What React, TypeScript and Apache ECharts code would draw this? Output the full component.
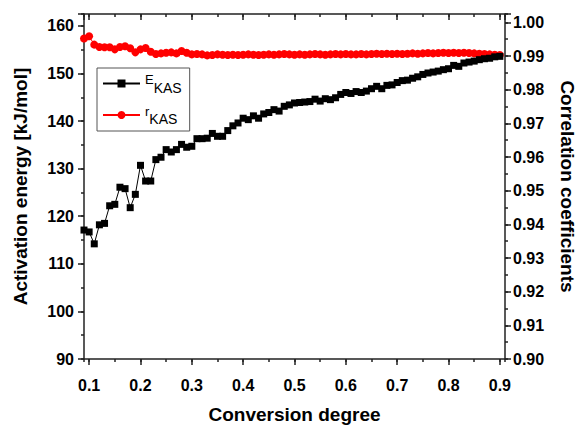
import React, { useEffect, useRef } from "react";
import * as echarts from "echarts";

// Conversion degree (x)
const conversion = [
  0.09, 0.1, 0.11, 0.12, 0.13, 0.14, 0.15, 0.16, 0.17, 0.18, 0.19, 0.2, 0.21, 0.22, 0.23, 0.24,
  0.25, 0.26, 0.27, 0.28, 0.29, 0.3, 0.31, 0.32, 0.33, 0.34, 0.35, 0.36, 0.37, 0.38, 0.39, 0.4,
  0.41, 0.42, 0.43, 0.44, 0.45, 0.46, 0.47, 0.48, 0.49, 0.5, 0.51, 0.52, 0.53, 0.54, 0.55, 0.56,
  0.57, 0.58, 0.59, 0.6, 0.61, 0.62, 0.63, 0.64, 0.65, 0.66, 0.67, 0.68, 0.69, 0.7, 0.71, 0.72,
  0.73, 0.74, 0.75, 0.76, 0.77, 0.78, 0.79, 0.8, 0.81, 0.82, 0.83, 0.84, 0.85, 0.86, 0.87, 0.88,
  0.89, 0.9,
];

// Activation energy E_KAS [kJ/mol]
const energyKAS = [
  117.1, 116.7, 114.2, 118.2, 118.5, 122.2, 122.5, 126.1, 125.8, 121.8, 124.6, 130.7, 127.4, 127.4,
  131.9, 132.4, 134.0, 133.5, 134.0, 135.1, 134.5, 134.7, 136.3, 136.3, 136.4, 137.4, 136.8, 136.8,
  138.0, 139.0, 139.6, 140.6, 140.3, 141.1, 140.6, 141.5, 141.8, 142.4, 142.1, 143.1, 143.4, 143.8,
  143.9, 144.0, 144.1, 144.6, 144.2, 144.7, 144.5, 144.9, 145.6, 146.0, 145.8, 146.2, 146.0, 146.3,
  146.8, 147.3, 146.8, 147.5, 147.6, 148.1, 148.5, 148.6, 149.0, 149.3, 149.8, 150.1, 150.3, 150.5,
  150.8, 151.0, 151.7, 151.5, 152.2, 152.4, 152.6, 152.9, 153.1, 153.2, 153.5, 153.6,
];

// Correlation coefficient r_KAS
const rKAS = [
  0.9952, 0.9959, 0.9934, 0.9927, 0.9926, 0.9926, 0.992, 0.9927, 0.9929, 0.9923, 0.9911, 0.992,
  0.9924, 0.9913, 0.9906, 0.9908, 0.991, 0.9911, 0.9908, 0.9915, 0.991, 0.9905, 0.9906, 0.9905,
  0.9902, 0.9903, 0.9905, 0.9904, 0.9903, 0.9904, 0.9903, 0.9904, 0.9905, 0.9904, 0.9903, 0.9904,
  0.9905, 0.9904, 0.9905, 0.9906, 0.9905, 0.9904, 0.9905, 0.9904, 0.9905, 0.9906, 0.9905, 0.9904,
  0.9905, 0.9906, 0.9905, 0.9906, 0.9905, 0.9905, 0.9906, 0.9905, 0.9906, 0.9907, 0.9906, 0.9907,
  0.9906, 0.9907, 0.9906, 0.9907, 0.9908, 0.9907, 0.9908, 0.9909, 0.9908, 0.9909, 0.991, 0.9909,
  0.991, 0.9909, 0.991, 0.9909, 0.9908, 0.9907, 0.9906, 0.9905, 0.9904, 0.9903,
];

const FONT = "'Liberation Sans', Arial, Helvetica, sans-serif";
const AXIS_COLOR = "#222";

export default function App() {
  const ref = useRef<HTMLDivElement>(null);

  useEffect(() => {
    if (!ref.current) return;
    const chart = echarts.init(ref.current, undefined, { renderer: "svg" });

    const xRange = { min: 0.09, max: 0.91 };
    const leftRange = { min: 90, max: 162.5 };
    const rightRange = { min: 0.9, max: 1.0025 };

    const labelStyle = { color: "#000", fontFamily: FONT, fontWeight: "bold" as const, fontSize: 16 };
    const nameStyle = { color: "#000", fontFamily: FONT, fontWeight: "bold" as const, fontSize: 19 };
    const lineStyle = { color: AXIS_COLOR, width: 1.5 };

    const isMult = (v: number, step: number) => Math.abs(v / step - Math.round(v / step)) < 1e-6;

    const option: any = {
      animation: false,
      backgroundColor: "#fff",
      grid: { left: 84, right: 75, top: 14, bottom: 67, containLabel: false },
      legend: {
        left: 97,
        top: 68,
        orient: "vertical",
        itemWidth: 37,
        itemHeight: 10,
        itemGap: 10,
        padding: [5, 8, 5, 5],
        borderColor: "#555",
        borderWidth: 1,
        data: ["E_KAS", "r_KAS"],
        formatter: (n: string) => `{m|${n.split("_")[0]}}{s|KAS}`,
        textStyle: {
          fontFamily: FONT,
          color: "#000",
          rich: {
            m: { fontFamily: FONT, fontSize: 13, color: "#000", padding: [0, 0, 8, 0] },
            s: { fontFamily: FONT, fontSize: 14, color: "#000", padding: [8, 0, 0, 0] },
          },
        },
      },
      xAxis: [
        {
          type: "value",
          position: "bottom",
          ...xRange,
          splitNumber: 8,
          splitLine: { show: false },
          axisLine: { show: true, lineStyle },
          axisTick: { show: true, inside: false, length: 6, lineStyle },
          axisLabel: {
            ...labelStyle,
            margin: 18,
            showMinLabel: false,
            showMaxLabel: false,
            formatter: (v: number) => (isMult(v, 0.1) ? v.toFixed(1) : ""),
          },
          name: "Conversion degree",
          nameLocation: "middle",
          nameGap: 46,
          nameTextStyle: nameStyle,
        },
        {
          type: "value",
          position: "bottom",
          ...xRange,
          splitNumber: 16,
          splitLine: { show: false },
          axisLine: { show: false },
          axisTick: { show: true, inside: false, length: 3, lineStyle },
          axisLabel: { show: false },
        },
        {
          type: "value",
          position: "top",
          ...xRange,
          splitNumber: 8,
          splitLine: { show: false },
          axisLine: { show: true, lineStyle },
          axisTick: { show: true, inside: true, length: 6, lineStyle },
          axisLabel: { show: false },
        },
        {
          type: "value",
          position: "top",
          ...xRange,
          splitNumber: 16,
          splitLine: { show: false },
          axisLine: { show: false },
          axisTick: { show: true, inside: true, length: 3, lineStyle },
          axisLabel: { show: false },
        },
      ],
      yAxis: [
        {
          type: "value",
          position: "left",
          ...leftRange,
          interval: 10,
          splitLine: { show: false },
          axisLine: { show: true, lineStyle },
          axisTick: { show: true, inside: false, length: 6, lineStyle },
          axisLabel: {
            ...labelStyle,
            margin: 10,
            formatter: (v: number) => (isMult(v, 10) ? String(Math.round(v)) : ""),
          },
          name: "Activation energy [kJ/mol]",
          nameLocation: "middle",
          nameGap: 54,
          nameTextStyle: nameStyle,
        },
        {
          type: "value",
          position: "left",
          ...leftRange,
          interval: 5,
          splitLine: { show: false },
          axisLine: { show: false },
          axisTick: { show: true, inside: false, length: 3, lineStyle },
          axisLabel: { show: false },
        },
        {
          type: "value",
          position: "right",
          ...rightRange,
          interval: 0.01,
          splitLine: { show: false },
          axisLine: { show: true, lineStyle },
          axisTick: { show: true, inside: false, length: 6, lineStyle },
          axisLabel: {
            ...labelStyle,
            margin: 8,
            formatter: (v: number) => (isMult(v, 0.01) ? v.toFixed(2) : ""),
          },
          name: "Correlation coefficients",
          nameLocation: "middle",
          nameRotate: -90,
          nameGap: 53,
          nameTextStyle: nameStyle,
        },
        {
          type: "value",
          position: "right",
          ...rightRange,
          interval: 0.005,
          splitLine: { show: false },
          axisLine: { show: false },
          axisTick: { show: true, inside: false, length: 3, lineStyle },
          axisLabel: { show: false },
        },
      ],
      series: [
        {
          name: "r_KAS",
          type: "line",
          xAxisIndex: 0,
          yAxisIndex: 2,
          data: conversion.map((x, i) => [x, rKAS[i]]),
          symbol: "circle",
          symbolSize: 8,
          itemStyle: { color: "#ff0000" },
          lineStyle: { color: "#ff0000", width: 1 },
          z: 2,
        },
        {
          name: "E_KAS",
          type: "line",
          xAxisIndex: 0,
          yAxisIndex: 0,
          data: conversion.map((x, i) => [x, energyKAS[i]]),
          symbol: "rect",
          symbolSize: 7,
          itemStyle: { color: "#000" },
          lineStyle: { color: "#000", width: 1 },
          z: 3,
        },
      ],
    };

    chart.setOption(option);
    return () => chart.dispose();
  }, []);

  return <div ref={ref} style={{ width: 585, height: 429, position: "absolute", left: 0, top: 0 }} />;
}
